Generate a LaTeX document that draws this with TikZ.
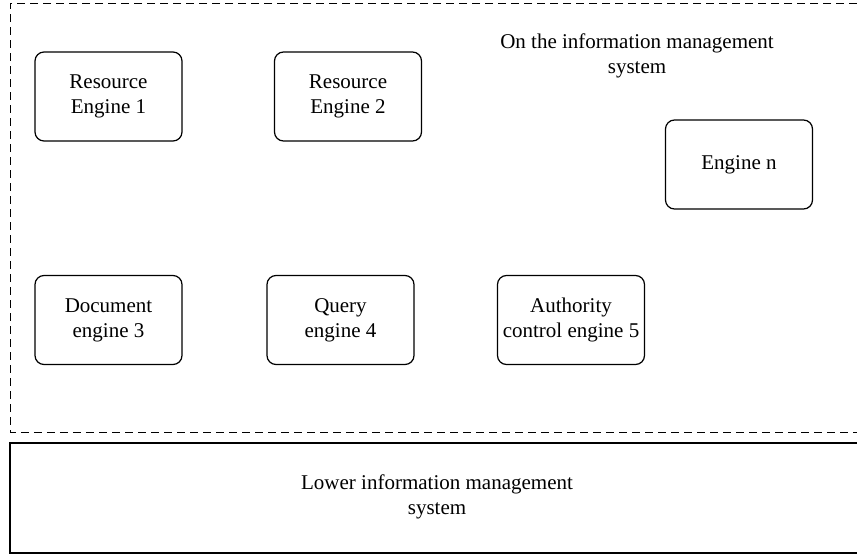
\documentclass[tikz,border=0pt]{standalone}
\usepackage{fontspec}
\setmainfont{Liberation Serif}
\begin{document}
\begin{tikzpicture}[x=1pt,y=-1pt,
  engine/.style={draw, line width=1.2pt, rounded corners=9pt, minimum width=147pt, minimum height=89pt, align=center, inner sep=1pt, font=\fontsize{21}{25}\selectfont},
  lbl/.style={align=center, font=\fontsize{21}{25}\selectfont}]
\useasboundingbox (0,0) rectangle (857,557);
\coordinate (ua) at (870,3);
\coordinate (ub) at (10,3);
\coordinate (uc) at (10,432);
\coordinate (ud) at (870,432);
\draw[line width=1pt, dash pattern=on 8pt off 5pt] (ua) -- (ub) -- (uc) -- (ud);
\coordinate (la) at (870,443);
\coordinate (lb) at (10,443);
\coordinate (lc) at (10,553);
\coordinate (ld) at (870,553);
\draw[line width=1.2pt] (la) -- (lb) -- (lc) -- (ld);
\node[lbl] (title) at (637,56) {On the information management\\system};
\node[lbl] (lower) at (437,497) {Lower information management\\system};
\node[engine] (r1) at (108.5,96.5) {Resource\\Engine 1};
\node[engine] (r2) at (348,96.5) {Resource\\Engine 2};
\node[engine] (en) at (739,164.5) {Engine n};
\node[engine] (d3) at (108.5,320) {Document\\engine 3};
\node[engine] (q4) at (340.5,320) {Query\\engine 4};
\node[engine] (a5) at (571,320) {Authority\\control engine 5};
\end{tikzpicture}
\end{document}
